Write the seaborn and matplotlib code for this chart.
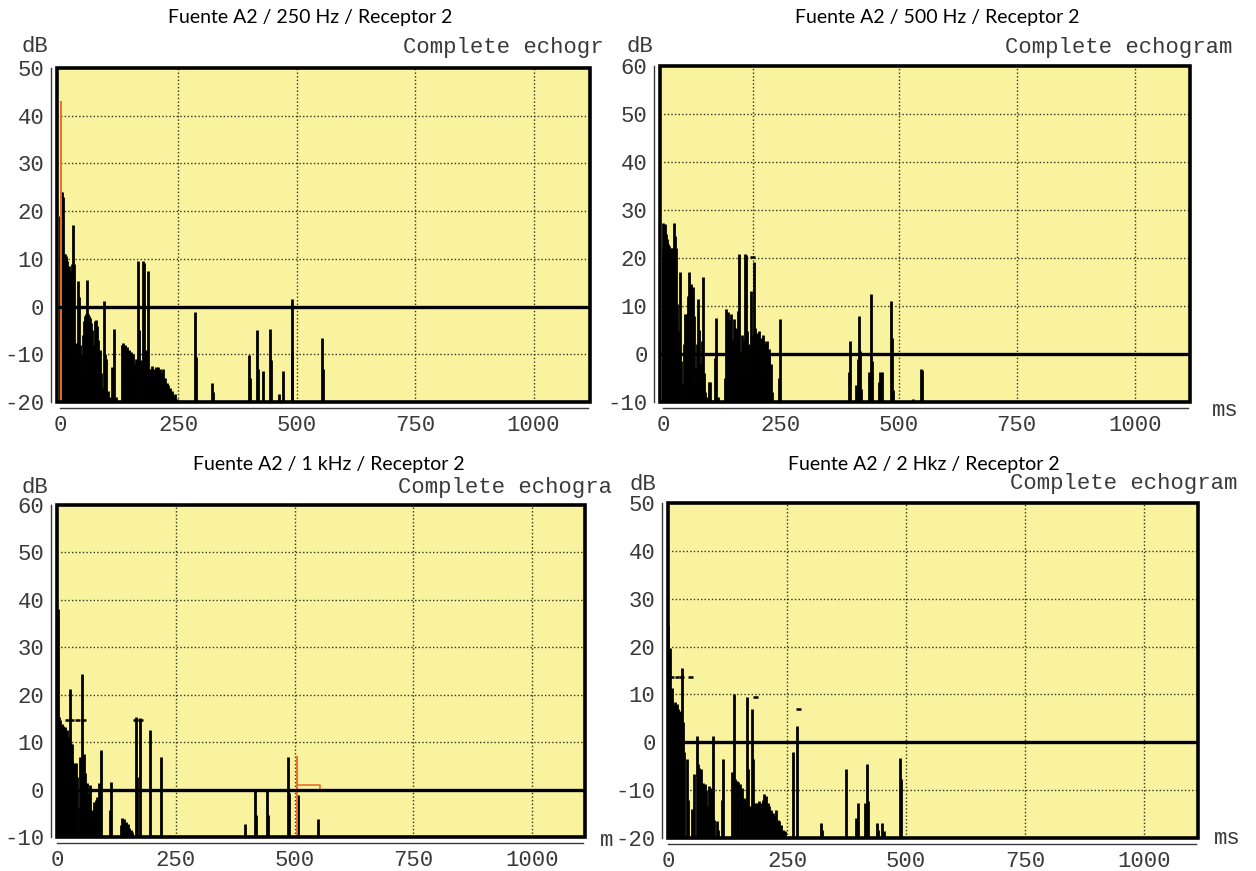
import matplotlib
matplotlib.use("Agg")
import matplotlib.pyplot as plt
from matplotlib.patches import Rectangle
import seaborn as sns

# ---------------------------------------------------------------- data
titles = ["Fuente A2 / 250 Hz / Receptor 2", "Fuente A2 / 500 Hz / Receptor 2",
          "Fuente A2 / 1 kHz / Receptor 2", "Fuente A2 / 2 Hkz / Receptor 2"]
headers = ["Complete echogr", "Complete echogram", "Complete echogra", "Complete echogram"]
units = ["", "ms", "m", "ms"]
y_ranges = [(-20, 50), (-10, 60), (-10, 60), (-20, 50)]
x_ticks = [0, 250, 500, 750, 1000]

# 250 Hz reflections (ms, dB)
t_250 = [0, 2, 4, 6, 8, 10, 12, 14, 16, 18, 20, 22, 24, 26, 27, 29,
         31, 33, 35, 37, 39, 41, 43, 45, 47, 49,
         51, 53, 55, 57, 59, 61, 63, 65, 67, 69,
         71, 73, 75, 77, 79, 81, 84, 87, 90, 93,
         95, 98, 102, 105, 111, 114, 118,
         132, 134, 136, 138, 140, 142, 144, 146, 148, 150,
         152, 154, 156, 158, 161, 164, 167, 169, 171, 173,
         175, 177, 180, 182, 184, 187, 189, 191, 193, 195,
         197, 199, 201, 203, 205, 207, 209, 211, 213, 215,
         217, 219, 221, 223, 225, 227, 229, 231, 233, 236,
         239, 243, 247,
         286, 288, 322, 324, 399, 401, 416, 418, 428, 443,
         445, 463, 470, 489, 491, 553, 555]
db_250 = [19, 24, 24, 23, 11, 11, 10.5, 10, 9.5, 8, 8.5, 7.5, 7, 9, 17, 9,
          -19, -9, -7.7, -12, 5.3, 2, -8, -14, -10, -6,
          -3, -2, -1.5, 5.6, -1.5, -2, -2.5, -3.5, -5, -8,
          -12, -16, -3, -2.8, -4, -7, -9, -14, -17, 1.2,
          -10, -11, -17.6, -19, -12.7, -4.8, -19,
          -8, -7.7, -8.5, -8, -9, -8.5, -9.5, -9, -10, -9.5,
          -11, -10, -12, -14, -11, 9.6, -5, -13, -11.3, -14,
          9.5, 9.2, -12, -9, -13, 7.4, -13, -14, -13, -12.5,
          -14, -13, -15, -12.7, -14, -12.7, -15, -13, -16, -14,
          -13, -15.5, -16, -15, -17, -16, -16.5, -18, -17, -17.6,
          -18.5, -18.3, -19.3,
          -1.1, -10.6, -16, -18, -10.2, -15, -4.9, -13, -13.4, -4.6,
          -11.3, -18.3, -13.4, 1.5, -9.5, -6.5, -13]
direct_t_250 = [3]
direct_db_250 = [43]

# 500 Hz reflections (ms, dB)
t_500 = [0, 1, 3, 5, 7, 9, 11, 13, 15, 17, 19, 21, 23, 25, 27, 29,
         31, 33, 35, 37, 39, 41, 43, 45, 47, 49,
         51, 53, 55, 57, 59, 61, 63, 65, 67, 69,
         71, 73, 75, 77, 79, 81, 83, 85, 87, 89,
         93, 97, 100, 104, 110, 112, 116,
         132, 134, 136, 138, 140, 142, 144, 146, 148, 150,
         152, 154, 156, 158, 160, 162, 164, 166, 168, 170,
         172, 174, 176, 178, 180, 182, 184, 186, 188, 190,
         192, 194, 196, 198, 200, 202, 204, 206, 208, 210,
         212, 214, 216, 218, 220, 222, 224, 226, 228, 230,
         232, 246, 248,
         395, 397, 409, 411, 413, 416, 418, 420, 437, 439,
         441, 443, 457, 461, 464, 484, 486, 488, 531, 548, 550]
db_500 = [22, 27.3, 26, 27, 25, 24, 23, 22.4, 22, 21.7, 22, 22, 27.3, 24.5, 22, 10.4,
          -8, 4.8, -3, 17.1, -1.5, -6, -9, 2, 8.3, 5,
          8.3, 12, 17.1, 13, 14.6, 13, 14, 8, -5.8, -9,
          -3, 2, 11.5, 5.1, -6, -2, 2.7, 16, -4, -8,
          -9, -5.8, -5.8, -9.5, -0.8, 7.6, -9,
          -5, 9.4, 4, 8.7, 2, 7, 8.3, 3, -2, 7.3,
          1, 5.5, 2.3, -3, 9, 20.8, -4, 0.6, 4, -5,
          3, 20.8, 20.6, 4.8, -2, 2, -4, 13.2, 3, -3,
          4, 19.2, 5.5, 1, 4.4, -2, 4.8, 0, 3.4, -4,
          4, 2.7, -3, 2, 2.7, -5, 1, -0.1, -5.8, -2,
          -8, -5, 7.3,
          -3.7, 2.7, -6.5, -7, -1, 8, 0.6, -7.2, -3.7, -5,
          12.5, -1.5, -5.8, -3.7, -3.7, 11, 3.4, -7.5, -9.3, -3.1, -3.3]
mark_t_500 = [190]
mark_db_500 = [20.3]

# 1 kHz reflections (ms, dB)
t_1k = [2, 4, 5, 7, 9, 10, 12, 13, 15, 17, 19, 20, 22, 24, 26, 27,
        29, 31, 32, 34, 36, 39, 41, 43, 45, 48,
        50, 53, 55, 57, 59, 61, 63, 65, 67, 69,
        71, 73, 75, 78, 80, 82, 85, 88, 92, 111, 113,
        134, 136, 138, 140, 142, 144, 146, 148, 150, 152, 155, 157,
        166, 168, 175, 196, 204, 218,
        396, 416, 418, 442, 444, 487, 489, 507, 549]
db_1k = [38, 15.3, 14, 14.6, 13, 13.9, 12, 13.5, 12, 13.2, 11, 12.5, 10, 11.1, 8, 21.3,
         9.7, 6, 9.7, -2, 5.5, 5.5, 2, 2.7, -3.7, 6.9,
         -5, 24.4, 2, 7.6, 3.4, -3, 1.3, -4, -1, 0.9,
         -6, -4.4, -7, -2.6, -6, -2.2, -1.5, 1.3, 8.3, -4.4, 1.6,
         -7.5, -6, -6.5, -7, -6.3, -7, -6.8, -7.5, -7.2, -8, -8.5, -9,
         15.3, 2.7, 15.1, 12.5, -9.5, 6.9,
         -7.2, -0.1, -5.3, -0.1, -5.3, 6.9, -0.8, -1.2, -6.1]
direct_t_1k = [1, 505]
direct_db_1k = [59, 7]
step_t_1k = [505, 553, 553]
step_db_1k = [1, 1, 0]
mark_t_1k = [22, 30, 43, 55, 165, 176]
mark_db_1k = [14.6, 14.6, 14.6, 14.6, 14.6, 14.6]

# 2 kHz reflections (ms, dB)
t_2k = [1, 3, 5, 8, 10, 12, 15, 17, 19, 22, 24, 26, 27, 29, 31, 34,
        40, 43, 50, 55, 60, 63, 66, 70, 73, 77,
        80, 84, 87, 91, 94, 97, 103, 106, 113, 115,
        134, 138, 141, 145, 148, 152, 155, 159, 162, 166,
        169, 172, 176, 179, 183, 186, 192, 195, 199, 202,
        206, 209, 213, 216, 220, 223, 227, 230, 234, 237,
        241, 244, 246,
        262, 271, 321, 323, 374, 395, 398, 414, 418, 421,
        439, 442, 449, 453, 487, 490]
db_2k = [24.5, 8.5, 19.7, 11.3, 7.5, 7.7, 8.5, 7.8, 8.1, 7, 6.5, 6.3, 5, 15.5, 4.2, -2.1,
         -3.5, -12, -14, -6.7, 1.4, -4.6, -5.3, -5.6, -8.5, -8.8,
         -9.9, -13.4, -9.2, -9.5, 1.4, -16.2, -16.5, -18.3, -12, -3.5,
         -6.3, 10, -7.7, -8, -8.4, -8.8, -9.5, -11.6, -12, 9.5,
         -5.6, -13.4, 7, -3.5, -12.7, -12.7, -12.3, -12.7, -12, -10.9,
         -11.2, -12.7, -13.4, -14.1, -14.8, -15.5, -14.1, -16.2, -16.5, -17.2,
         -18.3, -19, -18.5,
         -2.1, 3.5, -16.9, -18.3, -5.6, -15.8, -12.7, -12.7, -4.6, -12.3,
         -16.9, -18.3, -16.9, -18.5, -3.2, -7.7]
mark_t_2k = [8, 19, 29, 47, 183, 274]
mark_db_2k = [13.7, 13.7, 13.7, 13.7, 9.5, 6.9]

series = [
    dict(t=t_250, db=db_250, dt=direct_t_250, ddb=direct_db_250),
    dict(t=t_500, db=db_500, mt=mark_t_500, mdb=mark_db_500),
    dict(t=t_1k, db=db_1k, dt=direct_t_1k, ddb=direct_db_1k,
         st=step_t_1k, sdb=step_db_1k, mt=mark_t_1k, mdb=mark_db_1k),
    dict(t=t_2k, db=db_2k, mt=mark_t_2k, mdb=mark_db_2k),
]

# ---------------------------------------------------------------- layout
W, H = 1256, 871
frames = [(57, 68, 590, 402), (660, 66, 1190, 402),
          (57, 505, 585, 837), (668, 503, 1198, 838)]
x_ranges = [(-6, 1119), (-6, 1117), (2, 1111), (0, 1113)]
grid_x = [[250, 500, 750, 1000], [192, 500, 750, 1000],
          [250, 500, 750, 1000], [250, 500, 750, 1000]]
title_pos = [(310, 17), (937, 17), (329, 464), (924, 464)]
db_pos = [(35, 46), (640, 46), (35, 487), (643, 484)]
header_pos = [(403, 47), (1005, 47), (398, 487), (1010, 483)]
unit_pos = [(None, None), (1212, 410), (600, 840), (1214, 838)]

BG = "#F9F3A0"
GRID = "#33331a"
TXT = "#3a3a3a"
MONO = ["Liberation Mono", "DejaVu Sans Mono"]

sns.set_style("white")
plt.rcParams["font.family"] = MONO
plt.rcParams["axes.unicode_minus"] = False

fig = plt.figure(figsize=(W / 100, H / 100), dpi=100)
fig.patch.set_facecolor("white")

for i in range(4):
    l, t, r, b = frames[i]
    ax = fig.add_axes([l / W, 1 - b / H, (r - l) / W, (b - t) / H])
    ax.set_facecolor(BG)
    y0, y1 = y_ranges[i]
    ax.set_xlim(*x_ranges[i])
    ax.set_ylim(y0, y1)
    yt = list(range(y0, y1 + 1, 10))
    ax.set_yticks(yt)
    ax.set_xticks(x_ticks)

    for gx in grid_x[i]:
        ax.axvline(gx, color=GRID, lw=1.0, ls=(0, (1, 1.6)), zorder=1)
    for gy in yt[1:-1]:
        if gy != 0:
            ax.axhline(gy, color=GRID, lw=1.0, ls=(0, (1, 1.6)), zorder=1)

    s = series[i]
    ax.vlines(s["t"], y0, s["db"], color="black", lw=2.0, zorder=3)
    if "dt" in s:
        ax.vlines(s["dt"], y0, s["ddb"], color="#E8702A", lw=1.4, zorder=3)
    if "st" in s:
        ax.plot(s["st"], s["sdb"], color="#E8702A", lw=1.2, zorder=3)
    if "mt" in s:
        for mx, my in zip(s["mt"], s["mdb"]):
            ax.hlines(my, mx - 5, mx + 5, color="black", lw=1.8, zorder=4)

    ax.axhline(0, color="black", lw=2.4, zorder=4)

    ax.add_patch(Rectangle((0, 0), 1, 1, transform=ax.transAxes, fill=False,
                           lw=2.6, ec="black", zorder=6, clip_on=False))

    for side in ("top", "right"):
        ax.spines[side].set_visible(False)
    for side in ("left", "bottom"):
        ax.spines[side].set_position(("outward", 4))
        ax.spines[side].set_linewidth(1.0)
        ax.spines[side].set_color(TXT)
    ax.spines["bottom"].set_bounds(0, x_ranges[i][1] - 5)
    ax.tick_params(direction="out", length=4, width=1.0, labelsize=16,
                   pad=1, colors=TXT)
    for lab in ax.get_xticklabels() + ax.get_yticklabels():
        lab.set_family(MONO)

    tx, ty = title_pos[i]
    fig.text(tx / W, 1 - ty / H, titles[i], ha="center", va="center",
             fontsize=14, family=["Lato", "DejaVu Sans"], color="black")
    dx, dy = db_pos[i]
    fig.text(dx / W, 1 - dy / H, "dB", ha="center", va="center",
             fontsize=16, color=TXT)
    hx, hy = header_pos[i]
    fig.text(hx / W, 1 - hy / H, headers[i], ha="left", va="center",
             fontsize=16, color=TXT)
    ux, uy = unit_pos[i]
    if units[i]:
        fig.text(ux / W, 1 - uy / H, units[i], ha="left", va="center",
                 fontsize=16, color=TXT)

fig.savefig("out.png", dpi=100, facecolor="white")
